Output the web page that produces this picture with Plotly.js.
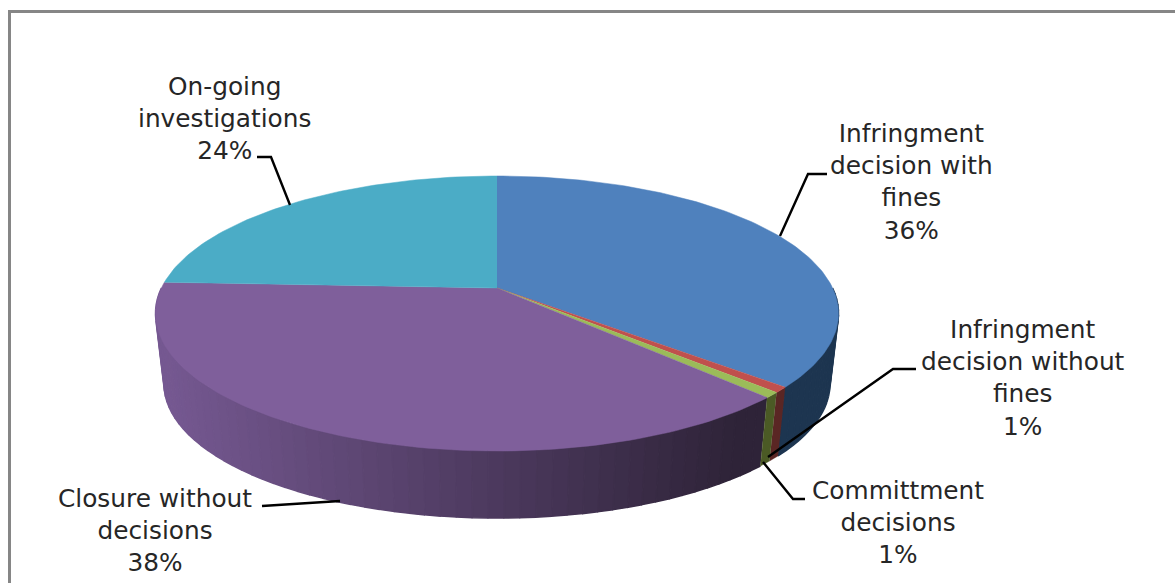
<!DOCTYPE html>
<html><head><meta charset="utf-8">
<script src="https://cdn.plot.ly/plotly-3.0.1.min.js"></script>
<style>html,body{margin:0;padding:0;background:#fff}#c{width:1175px;height:583px}</style>
</head><body><div id="c"></div>
<script>
// Data (shares of the pie, clockwise from 12 o'clock)
const categories = ["Infringment<br>decision with<br>fines","Infringment<br>decision without<br>fines","Committment<br>decisions","Closure without<br>decisions","On-going<br>investigations"];
const shares = [36.4,0.65,0.65,38.0,24.3];
const pctLabels = ["36%","1%","1%","38%","24%"];
const topColors = ["#4f81bd","#c0504d","#9bbb59","#7f5f9b","#4bacc6"];
const wallColors = ["#1d3550","#5a2624","#4b5a25",null,"#2a6070"];
const labelX = [911,1023,898,155,224];
const labelY = [182,378,522,530,118];
const leaderX = [[827,808,780],[916,893,768],[805,793,763],[262,340],[257,271,290]];
const leaderY = [[174,174,236],[369,369,457],[499,499,462],[506,501],[157,157,205]];

// projection of the tilted disc onto the drawing plane
const cx=497, cy=288, k=-0.1855, a=335.6, b=132.8;
const wallScale=0.975, wallY=359.1;
function topPt(t){const s=Math.sin(t),c=-Math.cos(t),d=1+k*c;return [cx+a*s/d,cy+b*c/d];}
function lowPt(t){const s=Math.sin(t),c=-Math.cos(t),d=1+k*c;return [cx+wallScale*a*s/d,wallY+wallScale*b*c/d];}
function rng(t0,t1,n){const r=[];for(let i=0;i<=n;i++)r.push(t0+(t1-t0)*i/n);return r;}
function mix(p){const A=[117,88,145],B=[46,35,56];const q=Math.max(0,Math.min(1,p));return `rgb(${A.map((v,i)=>Math.round(v+(B[i]-v)*q)).join(",")})`;}

const traces=[];
function poly(pts,color,w){traces.push({type:"scatter",mode:"lines",x:pts.map(p=>p[0]),y:pts.map(p=>p[1]),fill:"toself",fillcolor:color,line:{color:color,width:w},hoverinfo:"skip",showlegend:false});}

// side walls: the visible front part only
let acc=0;const bounds=shares.map(v=>{const r=[acc,acc+v];acc+=v;return r.map(u=>u/100*2*Math.PI);});
const wallMin=Math.PI*0.5, wallMax=Math.PI*1.5;
// wide walls first (their seams are hidden by a thicker outline), thin slices on top
const wallOrder=shares.map((v,i)=>i).sort((p,q)=>shares[q]-shares[p]);
wallOrder.forEach(i=>{
  const bd=bounds[i];
  const t0=Math.max(bd[0],wallMin), t1=Math.min(bd[1],wallMax);
  if(t1<=t0)return;
  const thin=shares[i]<2;
  const n=thin?1:Math.round((t1-t0)*25),ts=rng(t0,t1,n);
  for(let j=n-1;j>=0;j--){
    const A=topPt(ts[j]),B=topPt(ts[j+1]),C=lowPt(ts[j+1]),D=lowPt(ts[j]);
    const col=wallColors[i]||mix(((A[0]+B[0])/2-165)/(740-165));
    poly([A,B,C,D],col,thin?0.4:1.5);
  }
});
// top faces
bounds.forEach((bd,i)=>{
  const ts=rng(bd[0],bd[1],Math.max(4,Math.round(shares[i]*3)));
  poly([[cx,cy]].concat(ts.map(topPt)),topColors[i],0.5);
});
// leader lines
leaderX.forEach((xs,i)=>traces.push({type:"scatter",mode:"lines",x:xs,y:leaderY[i],line:{color:"#000",width:2.4},hoverinfo:"skip",showlegend:false}));

const annotations=categories.map((c,i)=>({x:labelX[i],y:labelY[i],xref:"x",yref:"y",text:c+"<br>"+pctLabels[i],showarrow:false,xanchor:"center",yanchor:"middle",align:"center",font:{family:"DejaVu Sans, sans-serif",size:24.8,color:"#262626"}}));

const layout={width:1175,height:583,margin:{l:0,r:0,t:0,b:0},paper_bgcolor:"#fff",plot_bgcolor:"#fff",showlegend:false,
 xaxis:{range:[0,1175],visible:false,fixedrange:true},yaxis:{range:[583,0],visible:false,fixedrange:true},
 annotations,
 shapes:[{type:"rect",xref:"x",yref:"y",x0:9.5,x1:1190,y0:11.5,y1:600,line:{color:"#868686",width:3},fillcolor:"rgba(0,0,0,0)",layer:"below"}]};
Plotly.newPlot("c",traces,layout,{staticPlot:true,displayModeBar:false});
</script></body></html>
